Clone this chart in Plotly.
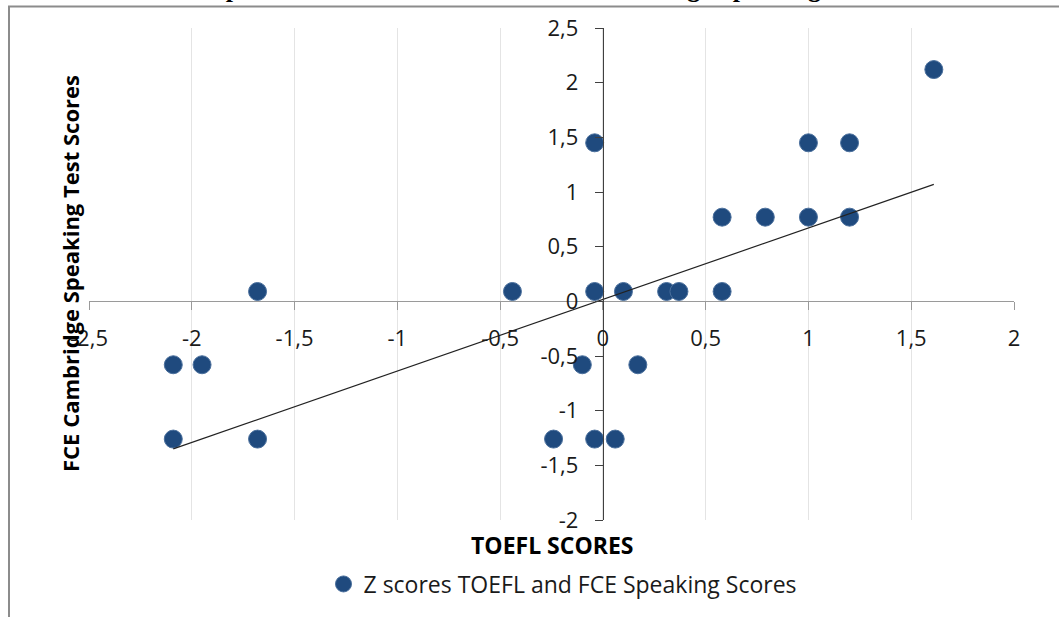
import plotly.graph_objects as go

# ---- data ----
toefl_z = [1.61, -0.04, 1.00, 1.20, 0.58, 0.79, 1.00, 1.20,
           -0.04, 0.10, 0.31, 0.37, 0.58, -1.68, -0.44,
           -2.09, -1.95, -0.10, 0.17,
           -2.09, -1.68, -0.24, -0.04, 0.06]
fce_z = [2.12, 1.45, 1.45, 1.45, 0.77, 0.77, 0.77, 0.77,
         0.09, 0.09, 0.09, 0.09, 0.09, 0.09, 0.09,
         -0.58, -0.58, -0.58, -0.58,
         -1.26, -1.26, -1.26, -1.26, -1.26]
trend_x = [-2.09, 1.61]
trend_y = [-1.35, 1.07]

x_tickvals = [-2.5, -2, -1.5, -1, -0.5, 0, 0.5, 1, 1.5, 2]
x_ticktext = ["-2,5", "-2", "-1,5", "-1", "-0,5", "0", "0,5", "1", "1,5", "2"]
y_tickvals = [-2, -1.5, -1, -0.5, 0, 0.5, 1, 1.5, 2, 2.5]
y_ticktext = ["-2", "-1,5", "-1", "-0,5", "0", "0,5", "1", "1,5", "2", "2,5"]

series_name = "Z scores TOEFL and FCE Speaking Scores"
title_text = "Graph 4: Z scores TOEFL and FCE Cambridge Speaking Test Scores"

X_RANGE = [-2.5, 2]
Y_RANGE = [-2, 2.5]

FONT = "Open Sans"
MARKER_COLOR = "#1f4a7e"

L, T, PW, PH = 89, 28, 925, 492
W, H = 1059, 617

fig = go.Figure()
fig.add_trace(go.Scatter(
    x=toefl_z, y=fce_z, mode="markers", name=series_name,
    marker=dict(size=18, color=MARKER_COLOR, line=dict(width=1, color="#4a6f9c")),
))
fig.add_trace(go.Scatter(
    x=trend_x, y=trend_y, mode="lines", showlegend=False,
    line=dict(color="#222222", width=1.2), hoverinfo="skip",
))

xpos = (0 - Y_RANGE[0]) / (Y_RANGE[1] - Y_RANGE[0])
ypos = (0 - X_RANGE[0]) / (X_RANGE[1] - X_RANGE[0])


def px_x(p):
    return (p - L) / PW


def px_y(p):
    return 1 - (p - T) / PH


fig.update_layout(
    width=W, height=H,
    margin=dict(l=L, r=W - L - PW, t=T, b=H - T - PH),
    paper_bgcolor="white", plot_bgcolor="white",
    font=dict(family=FONT, size=20, color="#1a1a1a"),
    xaxis=dict(
        range=X_RANGE, domain=[0, 1], anchor="free", position=xpos,
        tickvals=x_tickvals, ticktext=x_ticktext,
        showgrid=True, gridcolor="#e4e4e4", gridwidth=1,
        zeroline=False, showline=True, linecolor="#9a9a9a", linewidth=1.3,
        ticks="outside", ticklen=8, tickcolor="#9a9a9a",
        ticklabelstandoff=9,
        tickfont=dict(family=FONT, size=22, color="#1a1a1a"),
    ),
    yaxis=dict(
        range=Y_RANGE, domain=[0, 1], anchor="free", position=ypos,
        tickvals=y_tickvals, ticktext=y_ticktext,
        showgrid=False, zeroline=False,
        showline=True, linecolor="#404040", linewidth=1.2,
        ticks="outside", ticklen=8, tickcolor="#404040",
        ticklabelstandoff=12,
        tickfont=dict(family=FONT, size=22, color="#1a1a1a"),
    ),
    legend=dict(
        orientation="h", x=px_x(563), xanchor="center", y=px_y(584), yanchor="middle",
        font=dict(family=FONT, size=23, color="#1a1a1a"),
        bgcolor="rgba(0,0,0,0)",
    ),
    annotations=[
        dict(text="<b>TOEFL SCORES</b>", xref="paper", yref="paper",
             x=px_x(552), y=px_y(545), xanchor="center", yanchor="middle",
             showarrow=False, font=dict(family=FONT, size=23, color="#000000")),
        dict(text="<b>FCE Cambridge Speaking Test Scores</b>", xref="paper", yref="paper",
             x=px_x(70), y=px_y(274), xanchor="center", yanchor="middle", textangle=-90,
             showarrow=False, font=dict(family=FONT, size=22, color="#000000")),
        dict(text="<b>" + title_text + "</b>", xref="paper", yref="paper",
             x=px_x(566), y=px_y(5), xanchor="center", yanchor="bottom",
             showarrow=False,
             font=dict(family="Liberation Serif", size=26, color="#000000")),
    ],
    shapes=[
        dict(type="rect", xref="paper", yref="paper",
             x0=px_x(9), x1=px_x(W + 20), y0=px_y(H + 20), y1=px_y(6.5),
             line=dict(color="#8c8c8c", width=2), fillcolor="rgba(0,0,0,0)", layer="below"),
    ],
)

fig.write_html("out.html", config={"displayModeBar": False},
               post_script="document.body.style.margin='0';")
